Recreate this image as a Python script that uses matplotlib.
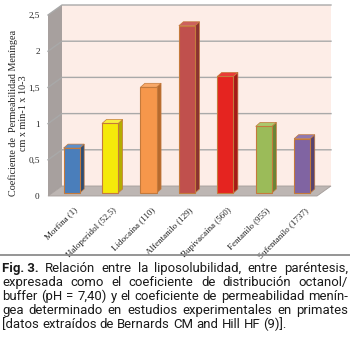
import matplotlib
matplotlib.use("Agg")
import matplotlib.pyplot as plt
import numpy as np
from matplotlib import font_manager
from matplotlib.patches import Polygon, Rectangle
from matplotlib.transforms import Affine2D, IdentityTransform
from matplotlib.lines import Line2D

# data
drugs = ["Morfina (1)", "Haloperidol (52,5)", "Lidocaína (110)", "Alfentanilo (129)",
         "Bupivacaína (560)", "Fentanilo (955)", "Sufentanilo (1737)"]
permeability = [0.62, 0.96, 1.46, 2.31, 1.61, 0.92, 0.75]
front_colors = ["#4a7ebb", "#f5e90a", "#f6974b", "#c0504d", "#e52420", "#9bbb59", "#8064a2"]
side_colors = ["#2c4d75", "#b5ad00", "#b76a2d", "#8a3331", "#a51a17", "#6a8537", "#57436f"]
top_colors = ["#5b8fcc", "#f8ef40", "#f8a868", "#cc605d", "#ea3a36", "#abc86c", "#9078b0"]
yticks = [0, 0.5, 1, 1.5, 2, 2.5]
caption = [
    "Relación entre la liposolubilidad, entre paréntesis,",
    "expresada como el coeficiente de distribución octanol/",
    "buffer (pH = 7,40) y el coeficiente de permeabilidad menín-",
    "gea determinado en estudios experimentales en primates",
    "[datos extraídos de Bernards CM and Hill HF (9)].",
]

W, H = 350, 339
fig = plt.figure(figsize=(W / 100, H / 100), dpi=100)
ax = fig.add_axes([48 / W, (H - 196) / H, (317 - 48) / W, (196 - 15) / H])
ax.set_xlim(-0.5, 6.5)
ax.set_ylim(0, 2.5)
for s in ax.spines.values():
    s.set_visible(False)
ax.patch.set_visible(False)

# 3D depth of the walls, in pixels
DX, DY = 14, 10
# bar position inside the depth and bar depth
BX, BY = 4.4, 3
SX, SY = 4.5, 4
bw = 0.42


def pt(x, y, dx=0.0, dy=0.0):
    X, Y = ax.transData.transform((x, y))
    return (X + dx, Y + dy)


ident = IdentityTransform()
x0, x1 = -0.5, 6.5

# back wall
back = Rectangle((x0, 0), x1 - x0, 2.5, facecolor="#fdede7", edgecolor="none",
                 transform=ax.transData + Affine2D().translate(DX, DY), clip_on=False, zorder=0)
ax.add_patch(back)

# left wall
lw = Polygon([pt(x0, 0), pt(x0, 2.5), pt(x0, 2.5, DX, DY), pt(x0, 0, DX, DY)],
             closed=True, facecolor="#a7a09e", edgecolor="none", transform=ident,
             clip_on=False, zorder=0.5)
ax.add_patch(lw)

# gridlines on back wall and left wall
for v in yticks[1:]:
    a, b, c = pt(x0, v), pt(x0, v, DX, DY), pt(x1, v, DX, DY)
    ax.add_line(Line2D([a[0], b[0], c[0]], [a[1], b[1], c[1]], color="#a9a9a9", lw=1.0,
                       transform=ident, clip_on=False, zorder=1))

# floor
fl = Polygon([pt(x0, 0), pt(x1, 0), pt(x1, 0, DX, DY), pt(x0, 0, DX, DY)],
             closed=True, facecolor="#bdb6b3", edgecolor="#a39c99", lw=0.6,
             transform=ident, clip_on=False, zorder=1.5)
ax.add_patch(fl)

# bars
xs = np.arange(len(drugs))
ax.bar(xs, permeability, width=bw, color=front_colors, edgecolor="#c47a3c", linewidth=0.8,
       transform=ax.transData + Affine2D().translate(BX, BY), zorder=3, clip_on=False)
for i, v in enumerate(permeability):
    l, r = i - bw / 2, i + bw / 2
    side = Polygon([pt(r, 0, BX, BY), pt(r, v, BX, BY), pt(r, v, BX + SX, BY + SY),
                    pt(r, 0, BX + SX, BY + SY)], closed=True, facecolor=side_colors[i],
                   edgecolor="#c47a3c", lw=0.5, transform=ident, clip_on=False, zorder=2.5)
    top = Polygon([pt(l, v, BX, BY), pt(r, v, BX, BY), pt(r, v, BX + SX, BY + SY),
                   pt(l, v, BX + SX, BY + SY)], closed=True, facecolor=top_colors[i],
                  edgecolor="#c47a3c", lw=0.5, transform=ident, clip_on=False, zorder=2.6)
    ax.add_patch(side)
    ax.add_patch(top)

serif = ["Liberation Serif", "DejaVu Serif"]
ax.set_yticks(yticks)
ax.set_yticklabels([f"{t:g}".replace(".", ",") for t in yticks], family=serif, fontsize=6.6,
                   color="#222222")
ax.set_xticks([])
ax.tick_params(axis="both", length=0)
ax.tick_params(axis="y", pad=6)

# category labels, rotated below the floor
lab_tr = ax.transData + Affine2D().translate(6.5, -10)
for i, name in enumerate(drugs):
    ax.text(i, 0, name, transform=lab_tr, family=serif, fontsize=6.5, rotation=45,
            ha="right", va="top", rotation_mode="anchor", color="#222222")

fig.text(18 / W, 1 - 113 / H, "Coeficiente de  Permeabilidad Meníngea\ncm x min-1 x 10-3",
         rotation=90, ha="center", va="center", family=serif, fontsize=7.3, linespacing=1.15,
         multialignment="center", color="#222222")

# separator line
fig.add_artist(Line2D([0, 1], [1 - 255 / H, 1 - 255 / H], color="#8c8c8c", lw=1.3,
                      transform=fig.transFigure))

# justified caption
renderer = fig.canvas.get_renderer()
cap_family = ["DejaVu Sans"]
for cand in ["Roboto", "Noto Sans"]:
    try:
        font_manager.findfont(cand, fallback_to_default=False)
        cap_family = [cand]
        break
    except Exception:
        pass


def text_w(s, size, bold=False):
    t = fig.text(0, 0, s, family=cap_family, fontsize=size,
                 fontweight="bold" if bold else "normal")
    w = t.get_window_extent(renderer).width
    t.remove()
    return w


left_px, right_px = 2, 348
baselines = [272, 286, 300, 314, 328]

# size the caption font so the full lines fit with normal word spacing
full = ["Fig. 3. " + caption[0]] + caption[1:-1]
cap_size = min(10 * (right_px - left_px - 4) / text_w(s, 10) for s in full)
cap_size = min(cap_size, 9.5)

for li, line in enumerate(caption):
    items = [(w, False) for w in line.split()]
    if li == 0:
        items = [("Fig. 3.", True)] + items
    widths = [text_w(w, cap_size, b) for w, b in items]
    if li == len(caption) - 1:
        gap = text_w("a b", cap_size) - text_w("ab", cap_size)
    else:
        gap = (right_px - left_px - sum(widths)) / (len(items) - 1)
    x = left_px
    y = 1 - baselines[li] / H
    for (w, b), wd in zip(items, widths):
        fig.text(x / W, y, w, ha="left", va="baseline", family=cap_family, fontsize=cap_size,
                 fontweight="bold" if b else "normal", color="#1a1a1a")
        x += wd + gap

fig.savefig("out.png", dpi=100, facecolor="white")
